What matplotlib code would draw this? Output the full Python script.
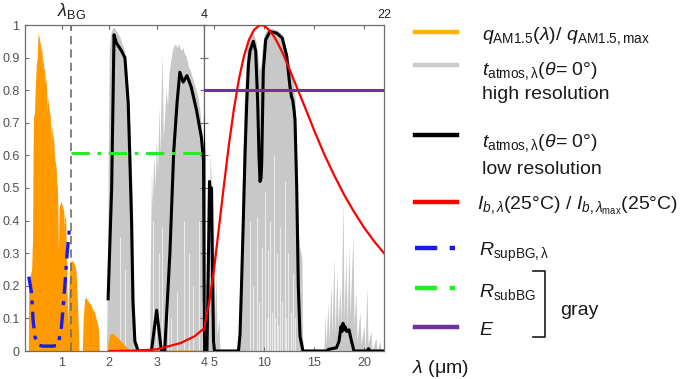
import matplotlib
matplotlib.use('Agg')
import matplotlib.pyplot as plt

plt.rcParams['font.family'] = ['Liberation Sans', 'DejaVu Sans']
plt.rcParams['mathtext.fontset'] = 'custom'
plt.rcParams['mathtext.rm'] = 'Liberation Sans'
plt.rcParams['mathtext.it'] = 'Liberation Sans:italic'
plt.rcParams['mathtext.bf'] = 'Liberation Sans:bold'

# ---------------- data (wavelength in um, normalized values) ----------------
lambda_bg = 1.2
r_subbg = 0.608
emissivity = 0.8

orange_x = [0.29, 0.30, 0.33, 0.36, 0.38, 0.39, 0.40, 0.42, 0.44, 0.46, 0.48, 0.49, 0.50, 0.51,
            0.52, 0.53, 0.545, 0.56, 0.575, 0.59, 0.60, 0.62, 0.63, 0.65, 0.66, 0.68, 0.69, 0.70,
            0.72, 0.74, 0.755, 0.762, 0.77, 0.79, 0.81, 0.83, 0.84, 0.86, 0.88, 0.89, 0.90, 0.91,
            0.925, 0.94, 0.96, 0.98, 1.00, 1.02, 1.04, 1.05, 1.06, 1.08, 1.10, 1.12, 1.14, 1.16,
            1.18, 1.20, 1.22, 1.25, 1.28, 1.30, 1.32, 1.34, 1.36, 1.43, 1.45, 1.48, 1.51, 1.54,
            1.57, 1.60, 1.63, 1.66, 1.69, 1.72, 1.75, 1.77, 1.79, 1.96, 1.98, 2.01, 2.05, 2.09,
            2.13, 2.18, 2.23, 2.28, 2.33, 2.38, 2.44, 2.50, 4.00]
orange_y = [0.0, 0.22, 0.23, 0.25, 0.35, 0.60, 0.72, 0.73, 0.82, 0.88, 0.90, 0.95, 0.98, 0.96,
            0.97, 0.94, 0.95, 0.92, 0.93, 0.88, 0.90, 0.86, 0.87, 0.82, 0.84, 0.79, 0.73, 0.78,
            0.75, 0.73, 0.72, 0.60, 0.70, 0.68, 0.66, 0.64, 0.60, 0.58, 0.56, 0.50, 0.52, 0.47,
            0.30, 0.44, 0.45, 0.46, 0.45, 0.44, 0.43, 0.38, 0.42, 0.40, 0.25, 0.08, 0.18, 0.25,
            0.28, 0.27, 0.28, 0.27, 0.26, 0.24, 0.18, 0.10, 0.0, 0.0, 0.10, 0.16, 0.165, 0.155,
            0.15, 0.145, 0.135, 0.125, 0.12, 0.10, 0.085, 0.07, 0.0, 0.0, 0.03, 0.05, 0.055, 0.052,
            0.047, 0.04, 0.033, 0.025, 0.017, 0.01, 0.004, 0.003, 0.003]

# high-resolution atmospheric transmittance (upper envelope of the gray area)
gray_x = [1.95, 1.97, 1.99, 2.01, 2.04, 2.08, 2.12, 2.16, 2.20, 2.24, 2.28, 2.31,
          2.35, 2.40, 2.44, 2.47, 2.50, 2.53, 2.56, 2.58,
          2.86, 2.88, 2.90, 2.92, 2.95, 2.98, 3.00, 3.03, 3.06, 3.08, 3.11, 3.13, 3.15, 3.18,
          3.21, 3.24, 3.27, 3.30, 3.33, 3.36, 3.40, 3.44, 3.48, 3.52, 3.56, 3.60, 3.64, 3.68,
          3.72, 3.76, 3.80, 3.84, 3.88, 3.92, 3.96, 4.00,
          4.03, 4.05, 4.08, 4.12, 4.15, 4.20, 4.25, 4.40, 4.45, 4.50, 4.55, 4.60, 4.70, 4.75,
          4.80, 4.85, 4.95, 5.00, 5.10, 5.20, 5.30, 5.50, 5.60,
          7.40, 7.60, 7.70, 7.80, 7.90, 8.00, 8.10, 8.20, 8.30, 8.45, 8.60, 8.80, 9.00, 9.20,
          9.40, 9.55, 9.70, 9.85, 10.00, 10.30, 10.80, 11.30, 11.80, 12.10, 12.40, 12.70,
          12.90, 13.10, 13.25, 13.40, 13.55, 13.70, 13.80, 13.85, 13.95,
          16.00, 16.10, 16.20, 16.40, 16.50, 16.70, 16.80, 17.00, 17.10, 17.30, 17.40, 17.60,
          17.70, 17.90, 18.00, 18.20, 18.30, 18.50, 18.60, 18.90, 19.00, 19.20, 19.30, 19.60,
          19.70, 20.00, 20.10, 20.30, 20.40, 20.70, 20.80, 21.20, 21.30, 21.60, 21.70]
gray_y = [0.0, 0.20, 0.60, 0.92, 0.97, 0.99, 0.99, 0.98, 0.97, 0.96, 0.94, 0.93,
          0.90, 0.82, 0.70, 0.60, 0.45, 0.20, 0.05, 0.0,
          0.0, 0.30, 0.55, 0.45, 0.60, 0.50, 0.65, 0.55, 0.75, 0.60, 0.82, 0.91, 0.65, 0.72,
          0.80, 0.75, 0.85, 0.88, 0.91, 0.93, 0.94, 0.93, 0.94, 0.92, 0.93, 0.91, 0.90, 0.87,
          0.86, 0.84, 0.82, 0.80, 0.78, 0.74, 0.68, 0.62,
          0.20, 0.65, 0.10, 0.45, 0.05, 0.30, 0.0, 0.0, 0.35, 0.55, 0.30, 0.62, 0.50, 0.60,
          0.35, 0.55, 0.20, 0.40, 0.10, 0.25, 0.05, 0.10, 0.0,
          0.0, 0.08, 0.25, 0.45, 0.62, 0.75, 0.82, 0.88, 0.93, 0.96, 0.97, 0.98, 0.97, 0.95,
          0.90, 0.86, 0.88, 0.94, 0.97, 0.99, 0.99, 0.985, 0.97, 0.94, 0.90, 0.86,
          0.83, 0.78, 0.60, 0.38, 0.32, 0.30, 0.28, 0.05, 0.0,
          0.0, 0.12, 0.02, 0.15, 0.03, 0.21, 0.05, 0.29, 0.05, 0.25, 0.08, 0.20,
          0.08, 0.47, 0.10, 0.30, 0.08, 0.33, 0.10, 0.36, 0.08, 0.18, 0.03, 0.12,
          0.02, 0.08, 0.0, 0.20, 0.02, 0.06, 0.0, 0.04, 0.0, 0.03, 0.0]

# light streaks (absorption lines) rising from the bottom of the gray area
streak_x = [2.22, 2.33, 2.92, 2.99, 3.04, 3.12, 3.25, 3.30, 3.44, 3.58, 3.68, 3.76, 3.90, 3.95,
            8.60, 8.90, 9.27, 9.50, 9.77, 10.10, 10.30, 10.43, 10.60, 10.80, 11.03, 11.15,
            11.27, 11.45, 11.60, 11.85, 12.10, 12.25, 12.43, 12.70, 12.93, 13.10]
streak_h = [0.35, 0.25, 0.40, 0.13, 0.30, 0.38, 0.27, 0.10, 0.18, 0.40, 0.30, 0.20, 0.40, 0.15,
            0.40, 0.20, 0.41, 0.15, 0.32, 0.49, 0.10, 0.31, 0.40, 0.12, 0.60, 0.10,
            0.30, 0.08, 0.38, 0.15, 0.52, 0.10, 0.30, 0.12, 0.24, 0.10]

black_x = [1.975, 2.05, 2.10, 2.15, 2.26, 2.33, 2.40, 2.43, 2.47, 2.50, 2.54, 2.61, 2.89, 3.00,
           3.10, 3.17, 3.28, 3.36, 3.43, 3.49, 3.56, 3.64, 3.73, 3.84, 3.945, 3.99, 4.01, 4.30,
           4.45, 4.55, 4.65, 4.75, 4.85, 4.95, 5.05, 7.45, 7.60, 7.75, 7.93, 8.10, 8.27, 8.45,
           8.60, 8.93, 9.17, 9.37, 9.50, 9.60, 9.70, 9.77, 9.93, 10.17, 10.60, 11.27, 11.83,
           12.27, 12.60, 12.75, 12.87, 13.00, 13.10, 13.27, 13.43, 13.60, 13.90, 16.30, 16.45,
           17.25, 17.50, 17.70, 17.80, 17.90, 18.00, 18.10, 18.27, 18.50, 18.75, 19.00, 20.30,
           20.45, 20.60, 22.00]
black_y = [0.16, 0.50, 0.97, 0.945, 0.92, 0.90, 0.76, 0.61, 0.40, 0.15, 0.03, 0.0, 0.0, 0.125,
           0.0, 0.0, 0.30, 0.61, 0.76, 0.855, 0.825, 0.845, 0.81, 0.74, 0.655, 0.585, 0.0, 0.0,
           0.30, 0.52, 0.47, 0.50, 0.25, 0.03, 0.0, 0.0, 0.05, 0.20, 0.40, 0.60, 0.76, 0.88,
           0.92, 0.95, 0.92, 0.76, 0.60, 0.52, 0.53, 0.575, 0.86, 0.955, 0.98, 0.975, 0.96,
           0.905, 0.81, 0.78, 0.77, 0.74, 0.71, 0.505, 0.20, 0.045, 0.0, 0.0, 0.005,
           0.01, 0.03, 0.075, 0.06, 0.085, 0.065, 0.075, 0.06, 0.065, 0.03, 0.0, 0.0,
           0.007, 0.0, 0.0]

red_x = [2.0, 2.5, 3.0, 3.5, 3.8, 4.0, 4.5, 5.0, 5.5, 6.0, 6.5, 7.0, 7.5, 8.0, 8.5, 9.0, 9.5,
         9.75, 10.0, 10.5, 11.0, 11.5, 12.0, 13.0, 14.0, 15.0, 16.0, 17.0, 18.0, 19.0, 20.0,
         21.0, 22.0]
red_y = [0.0, 0.001, 0.005, 0.024, 0.045, 0.069, 0.147, 0.25, 0.38, 0.51, 0.635, 0.744, 0.835,
         0.905, 0.955, 0.985, 0.998, 1.0, 0.998, 0.985, 0.965, 0.937, 0.905, 0.83, 0.755, 0.678,
         0.605, 0.54, 0.48, 0.427, 0.379, 0.337, 0.30]

blue_x = [0.30, 0.36, 0.39, 0.43, 0.50, 0.60, 0.81, 0.92, 0.99, 1.06, 1.11, 1.155, 1.18]
blue_y = [0.228, 0.177, 0.095, 0.044, 0.018, 0.015, 0.015, 0.018, 0.074, 0.197, 0.30, 0.37, 0.39]

yticks = [0, 0.1, 0.2, 0.3, 0.4, 0.5, 0.6, 0.7, 0.8, 0.9, 1.0]
ytick_labels = ['0', '0.1', '0.2', '0.3', '0.4', '0.5', '0.6', '0.7', '0.8', '0.9', '1']
left_xticks = [1, 2, 3, 4]
right_xticks = [4, 5, 10, 15, 20]
right_xtick_labels = ['', '5', '10', '15', '20']

# ---------------- figure ----------------
W, H = 685, 379
fig = plt.figure(figsize=(W / 100, H / 100), dpi=100)
x0, xm, x1 = 25, 204, 384
ytop, ybot = 25, 351
ax1 = fig.add_axes([x0 / W, 1 - ybot / H, (xm - x0) / W, (ybot - ytop) / H])
ax2 = fig.add_axes([xm / W, 1 - ybot / H, (x1 - xm) / W, (ybot - ytop) / H])

GRAY = '#c8c8c8'
ORANGE = '#ff9a00'
SPINE = '#6e6e6e'
TICKLAB = '#505050'

for ax in (ax1, ax2):
    ax.fill_between(gray_x, 0, gray_y, color=GRAY, lw=0, zorder=1)
    ax.vlines(streak_x, 0, streak_h, color='#ebebeb', lw=0.8, zorder=1.5)
    ax.fill_between(orange_x, 0, orange_y, color=ORANGE, lw=0, zorder=2)
    ax.plot(black_x, black_y, color='black', lw=2.2, solid_joinstyle='round', zorder=3)
    ax.plot(red_x, red_y, color='#ff0000', lw=1.6, zorder=4)
    ax.set_ylim(0, 1)
    for s in ax.spines.values():
        s.set_color(SPINE)
        s.set_linewidth(0.9)
    ax.set_yticks(yticks)
    ax.tick_params(direction='in', length=3, color=SPINE, labelcolor=TICKLAB,
                   labelsize=9, pad=4)

ax1.set_xlim(0.22, 4.0)
ax2.set_xlim(4, 22)

ax1.plot(blue_x, blue_y, color='#1a1aee', lw=2.4, ls=(0, (5, 2.2, 1.2, 2.2)), zorder=5)
ax1.plot([lambda_bg, 4.0], [r_subbg, r_subbg], color='#22ee22', lw=2.2,
         ls=(0, (6, 2.5, 1.2, 2.5)), zorder=5)
ax1.axvline(lambda_bg, color='#707070', lw=1.2, ls=(0, (5, 3)), zorder=6)
ax2.plot([4, 22], [emissivity, emissivity], color='#7030a0', lw=2.2, zorder=5)

ax1.set_xticks(left_xticks)
ax1.set_xticklabels([str(v) for v in left_xticks])
ax1.set_yticklabels(ytick_labels)
ax1.tick_params(top=True, right=True)
sec1 = ax1.secondary_xaxis('top')
sec1.set_xticks([1, lambda_bg, 2, 3])
sec1.set_xticklabels([])
sec1.tick_params(direction='in', length=3, color=SPINE)
sec1.spines['top'].set_visible(False)

ax2.set_xticks(right_xticks)
ax2.set_xticklabels(right_xtick_labels)
ax2.set_yticklabels([])
ax2.tick_params(top=True, right=False)

ax1.text(lambda_bg, 1.012, r'$\lambda_{\rm BG}$', transform=ax1.get_xaxis_transform(),
         ha='center', va='bottom', fontsize=13, color='#202020')
ax2.text(4, 1.012, '4', transform=ax2.get_xaxis_transform(), ha='center', va='bottom',
         fontsize=9, color='#202020')
ax2.text(22, 1.012, '22', transform=ax2.get_xaxis_transform(), ha='center', va='bottom',
         fontsize=9, color='#202020')

# ---------------- legend (drawn in pixel space) ----------------
lg = fig.add_axes([0, 0, 1, 1])
lg.set_xlim(0, W)
lg.set_ylim(H, 0)
lg.set_axis_off()

hx = [415, 457]
lg.plot(hx, [32, 32], color='#ffb400', lw=3.2)
lg.plot(hx, [65, 65], color='#cccccc', lw=3.2)
lg.plot(hx, [135, 135], color='black', lw=3.2)
lg.plot(hx, [202, 202], color='#ff0000', lw=3.2)
lg.plot(hx, [248, 248], color='#1a1aee', lw=3.2, ls=(0, (5, 2.8, 1.2, 3)))
lg.plot(hx, [288, 288], color='#22ee22', lw=3.2, ls=(0, (5, 2.8, 1.2, 3)))
lg.plot(hx, [327, 327], color='#7030a0', lw=3.2)

fs = 14
tc = '#1a1a1a'
tx = 482
lg.text(tx, 40, r'$q_{\rm AM1.5}(\lambda)$/ $q_{\rm AM1.5,max}$', fontsize=fs, color=tc, va='baseline')
lg.text(tx, 75, r'$t_{\rm atmos,\lambda}(\theta$= 0°)', fontsize=fs, color=tc, va='baseline')
lg.text(tx, 99, 'high resolution', fontsize=fs, color=tc, va='baseline')
lg.text(tx, 146.5, r'$t_{\rm atmos,\lambda}(\theta$= 0°)', fontsize=fs, color=tc, va='baseline')
lg.text(tx, 174, 'low resolution', fontsize=fs, color=tc, va='baseline')
lg.text(477, 210, r'$I_{b,\lambda}$(25°C) / $I_{b,\lambda_{\rm max}}$(25°C)', fontsize=fs,
        color=tc, va='baseline')
lg.text(479, 256.5, r'$R_{\rm supBG,\lambda}$', fontsize=fs, color=tc, va='baseline')
lg.text(479, 296.5, r'$R_{\rm subBG}$', fontsize=fs, color=tc, va='baseline')
lg.text(479, 335, r'$E$', fontsize=fs, color=tc, va='baseline')
lg.plot([533, 545, 545, 533], [271, 271, 337, 337], color='#1a1a1a', lw=1.2)
lg.text(560, 315, 'gray', fontsize=fs, color=tc, va='baseline')
lg.text(412, 373, r'$\lambda$ (μm)', fontsize=fs, color=tc, va='baseline')

fig.savefig('out.png', dpi=100)
